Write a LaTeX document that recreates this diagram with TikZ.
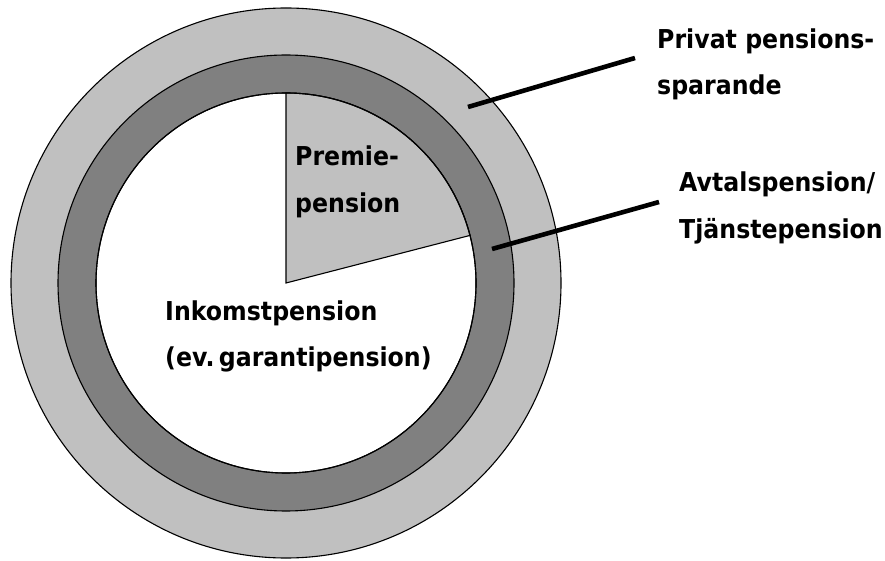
\documentclass[tikz,border=0pt]{standalone}
\usepackage{fontspec}
\newfontfamily\labfont{DejaVu Sans}[FakeStretch=0.91]
\definecolor{lightring}{HTML}{C0C0C0}
\definecolor{darkring}{HTML}{808080}
\begin{document}
\begin{tikzpicture}[x=1pt,y=1pt,
  ring/.style={draw=black,line width=1.1pt},
  lab/.style={inner sep=0pt,anchor=base west,font=\labfont\bfseries\fontsize{26}{30}\selectfont},
  leader/.style={draw=black,line width=4.6pt}]
\useasboundingbox[fill=white] (0,0) rectangle (885,560);
\coordinate (c) at (286,277);
% rings
\fill[lightring,ring] (c) circle[radius=275];
\fill[darkring,ring] (c) circle[radius=228];
\fill[white,ring] (c) circle[radius=190];
% wedge
\filldraw[fill=lightring,draw=black,line width=1.1pt] (c) -- ++(90:190) arc[start angle=90,end angle=14.5,radius=190] -- cycle;
\draw[ring] (c) circle[radius=190];
% labels
\node[lab] (premie1) at (295,394) {Premie-};
\node[lab] (premie2) at (295,347) {pension};
\node[lab] (inkomst1) at (165,240) {Inkomstpension};
\node[lab] (inkomst2) at (165,194) {(ev.\,garantipension)};
\node[lab] (privat1) at (657,511) {Privat pensions-};
\node[lab] (privat2) at (657,465) {sparande};
\node[lab] (avtal1) at (679,368) {Avtalspension/};
\node[lab] (avtal2) at (679,321) {Tjänstepension};
% leaders
\coordinate (l1a) at (468,453);
\coordinate (l1b) at (635,502);
\coordinate (l2a) at (492,311);
\coordinate (l2b) at (659,358);
\draw[leader] (l1a) -- (l1b);
\draw[leader] (l2a) -- (l2b);
\end{tikzpicture}
\end{document}
